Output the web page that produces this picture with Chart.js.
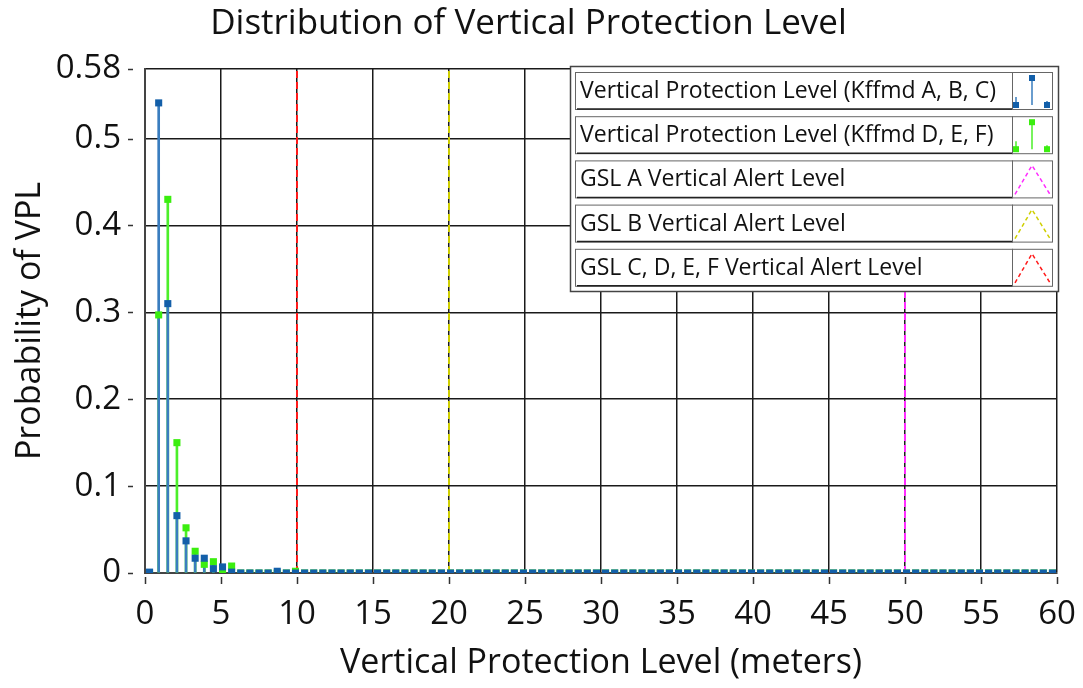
<!DOCTYPE html>
<html>
<head>
    <title>Distribution of Vertical Protection Level</title>
    <script src="https://cdn.jsdelivr.net/npm/chart.js"></script>
    <style>
        html, body { margin: 0; padding: 0; background: #fff; }
        #wrap { width: 1083px; height: 688px; }
    </style>
</head>
<body>
<div id="wrap"><canvas id="vplChart" width="1083" height="688"></canvas></div>

<script>
// bin centres (meters)
const vplBins = [
     0.3,  0.9,  1.5,  2.1,  2.7,  3.3,  3.9,  4.5,  5.1,  5.7,
     6.3,  6.9,  7.5,  8.1,  8.7,  9.3,  9.9, 10.5, 11.1, 11.7,
    12.3, 12.9, 13.5, 14.1, 14.7, 15.3, 15.9, 16.5, 17.1, 17.7,
    18.3, 18.9, 19.5, 20.1, 20.7, 21.3, 21.9, 22.5, 23.1, 23.7,
    24.3, 24.9, 25.5, 26.1, 26.7, 27.3, 27.9, 28.5, 29.1, 29.7,
    30.3, 30.9, 31.5, 32.1, 32.7, 33.3, 33.9, 34.5, 35.1, 35.7,
    36.3, 36.9, 37.5, 38.1, 38.7, 39.3, 39.9, 40.5, 41.1, 41.7,
    42.3, 42.9, 43.5, 44.1, 44.7, 45.3, 45.9, 46.5, 47.1, 47.7,
    48.3, 48.9, 49.5, 50.1, 50.7, 51.3, 51.9, 52.5, 53.1, 53.7,
    54.3, 54.9, 55.5, 56.1, 56.7, 57.3, 57.9, 58.5, 59.1, 59.7
];

// Kffmd A, B, C
const probABC = [
    0.001, 0.541, 0.310, 0.066, 0.037, 0.017, 0.017, 0.005, 0.007, 0.001,
    0, 0, 0, 0, 0.002, 0, 0, 0, 0, 0,
    0, 0, 0, 0, 0, 0, 0, 0, 0, 0,
    0, 0, 0, 0, 0, 0, 0, 0, 0, 0,
    0, 0, 0, 0, 0, 0, 0, 0, 0, 0,
    0, 0, 0, 0, 0, 0, 0, 0, 0, 0,
    0, 0, 0, 0, 0, 0, 0, 0, 0, 0,
    0, 0, 0, 0, 0, 0, 0, 0, 0, 0,
    0, 0, 0, 0, 0, 0, 0, 0, 0, 0,
    0, 0, 0, 0, 0, 0, 0, 0, 0, 0
];

// Kffmd D, E, F
const probDEF = [
    0, 0.297, 0.430, 0.150, 0.052, 0.025, 0.010, 0.013, 0, 0.008,
    0, 0, 0, 0, 0, 0, 0.002, 0, 0, 0,
    0, 0, 0, 0, 0, 0, 0, 0, 0, 0,
    0, 0, 0, 0, 0, 0, 0, 0, 0, 0,
    0, 0, 0, 0, 0, 0, 0, 0, 0, 0,
    0, 0, 0, 0, 0, 0, 0, 0, 0, 0,
    0, 0, 0, 0, 0, 0, 0, 0, 0, 0,
    0, 0, 0, 0, 0, 0, 0, 0, 0, 0,
    0, 0, 0, 0, 0, 0, 0, 0, 0, 0,
    0, 0, 0, 0, 0, 0, 0, 0, 0, 0
];

// alert levels (meters): GSL A, GSL B, GSL C-F
const alertLevels = [50, 20, 10];

const seriesNames = [
    'Vertical Protection Level (Kffmd A, B, C)',
    'Vertical Protection Level (Kffmd D, E, F)',
    'GSL A Vertical Alert Level',
    'GSL B Vertical Alert Level',
    'GSL C, D, E, F Vertical Alert Level'
];

const yTicks = [0, 0.1, 0.2, 0.3, 0.4, 0.5, 0.58];
const xTicks = [0, 5, 10, 15, 20, 25, 30, 35, 40, 45, 50, 55, 60];
const yMax = 0.58;

const BLUE = '#135fa9', BLUE_STEM = '#3a7dbf';
const GREEN = '#3bee0f', GREEN_STEM = '#4cef2a';
const alertColors = ['#ff2bff', '#cfcf00', '#ff1a1a'];
const FONT = "'Open Sans', 'Noto Sans', sans-serif";

const toPts = vals => vals.map((v, i) => ({ x: vplBins[i], y: v }));

const datasets = [
    { type: 'bar', label: seriesNames[1], data: toPts(probDEF), backgroundColor: GREEN_STEM,
      barThickness: 2, grouped: false, order: 10 },
    { type: 'bar', label: seriesNames[0], data: toPts(probABC), backgroundColor: BLUE_STEM,
      barThickness: 2, grouped: false, order: 9 }
];
alertLevels.forEach((lvl, i) => {
    datasets.push({
        type: 'line', label: seriesNames[2 + i],
        data: [{ x: lvl, y: 0 }, { x: lvl, y: yMax }],
        borderColor: alertColors[i], borderWidth: 2, borderDash: [7, 4],
        pointRadius: 0, fill: false, order: 8 - i
    });
});
datasets.push(
    { type: 'scatter', label: seriesNames[1], data: toPts(probDEF), pointStyle: 'rect',
      pointRadius: 5, borderWidth: 0, backgroundColor: GREEN, order: 2 },
    { type: 'scatter', label: seriesNames[0], data: toPts(probABC), pointStyle: 'rect',
      pointRadius: 5, borderWidth: 0, backgroundColor: BLUE, order: 1 }
);

// little tick dashes that sit a bit away from the plot frame
const tickMarks = {
    id: 'tickMarks',
    afterDraw(chart) {
        const { ctx, chartArea, scales } = chart;
        ctx.save();
        ctx.strokeStyle = '#333';
        ctx.lineWidth = 1.5;
        ctx.beginPath();
        yTicks.forEach(v => {
            const y = Math.round(scales.y.getPixelForValue(v)) + 0.5;
            ctx.moveTo(chartArea.left - 17, y);
            ctx.lineTo(chartArea.left - 12, y);
        });
        xTicks.forEach(v => {
            const x = Math.round(scales.x.getPixelForValue(v)) + 0.5;
            ctx.moveTo(x, chartArea.bottom + 4);
            ctx.lineTo(x, chartArea.bottom + 11);
        });
        ctx.stroke();
        ctx.restore();
    }
};

// boxed legend in the top right corner
const boxLegend = {
    id: 'boxLegend',
    afterDraw(chart) {
        const { ctx } = chart;
        const x0 = 570, y0 = 66, w = 488, h = 225;
        ctx.save();
        ctx.fillStyle = '#fff';
        ctx.fillRect(x0, y0, w, h);
        ctx.strokeStyle = '#444';
        ctx.lineWidth = 1.5;
        ctx.strokeRect(x0 + 0.5, y0 + 0.5, w, h);
        seriesNames.forEach((name, i) => {
            const top = y0 + 6 + i * 44.2, rh = 37;
            const tx = x0 + 5, tw = 437, ix = tx + tw, iw = 40;
            ctx.strokeStyle = '#666';
            ctx.lineWidth = 1;
            ctx.strokeRect(tx + 0.5, top + 0.5, tw, rh);
            ctx.strokeRect(ix + 0.5, top + 0.5, iw, rh);
            ctx.strokeStyle = '#222';
            ctx.lineWidth = 1.5;
            ctx.beginPath();
            ctx.moveTo(tx + 2, top + rh);
            ctx.lineTo(tx + tw, top + rh);
            ctx.stroke();
            ctx.fillStyle = '#111';
            ctx.font = '23px ' + FONT;
            ctx.textBaseline = 'middle';
            ctx.fillText(name, tx + 5, top + rh / 2 + 1);
            // icon
            if (i < 2) {
                const mc = i === 0 ? BLUE : GREEN, sc = i === 0 ? BLUE_STEM : GREEN_STEM;
                const base = top + rh - 4;
                const stems = [[ix + 4, base - 8], [ix + 20, top + 6], [ix + 35, base - 4]];
                ctx.strokeStyle = sc;
                ctx.lineWidth = 1.5;
                ctx.beginPath();
                stems.forEach(s => { ctx.moveTo(s[0], base); ctx.lineTo(s[0], s[1]); });
                ctx.stroke();
                ctx.fillStyle = mc;
                stems.forEach((s, k) => {
                    const yy = k === 1 ? s[1] : base;
                    ctx.fillRect(s[0] - 3, yy - 3, 6, 6);
                });
            } else {
                ctx.strokeStyle = alertColors[i - 2];
                ctx.lineWidth = 1.5;
                ctx.setLineDash([4, 3]);
                ctx.beginPath();
                ctx.moveTo(ix + 3, top + rh - 3);
                ctx.lineTo(ix + 20, top + 5);
                ctx.lineTo(ix + 38, top + rh - 3);
                ctx.stroke();
                ctx.setLineDash([]);
            }
        });
        ctx.restore();
    }
};

new Chart(document.getElementById('vplChart'), {
    type: 'bar',
    data: { datasets: datasets },
    plugins: [tickMarks, boxLegend],
    options: {
        responsive: false,
        animation: false,
        layout: { padding: { left: 0, right: 26, top: 0, bottom: 0 } },
        plugins: {
            legend: { display: false },
            tooltip: { enabled: false },
            title: {
                display: true,
                text: 'Distribution of Vertical Protection Level',
                color: '#111',
                font: { family: FONT, size: 35, weight: 'normal' },
                padding: { top: 3, bottom: 24 }
            }
        },
        scales: {
            x: {
                type: 'linear', min: 0, max: 60, offset: false,
                afterBuildTicks: s => { s.ticks = xTicks.map(v => ({ value: v })); },
                afterFit: s => { s.height = 115; s.paddingRight = 0; s.paddingLeft = 0; },
                grid: { color: '#1a1a1a', lineWidth: 1.5, drawTicks: false, offset: false },
                border: { color: '#444', width: 2 },
                ticks: { color: '#111', padding: 22, font: { family: FONT, size: 33 } },
                title: {
                    display: true, text: 'Vertical Protection Level (meters)', color: '#111',
                    font: { family: FONT, size: 34 }, padding: { top: 0, bottom: 4 }
                }
            },
            y: {
                type: 'linear', min: 0, max: yMax,
                afterBuildTicks: s => { s.ticks = yTicks.map(v => ({ value: v })); },
                afterFit: s => { s.width = 145; },
                grid: { color: '#1a1a1a', lineWidth: 1.5, drawTicks: false },
                border: { color: '#444', width: 2 },
                ticks: { color: '#111', padding: 24, font: { family: FONT, size: 33 },
                         callback: v => String(v) },
                title: {
                    display: true, text: 'Probability of VPL', color: '#111',
                    font: { family: FONT, size: 34 }, padding: { top: 10, bottom: 0 }
                }
            }
        }
    }
});
</script>
</body>
</html>
